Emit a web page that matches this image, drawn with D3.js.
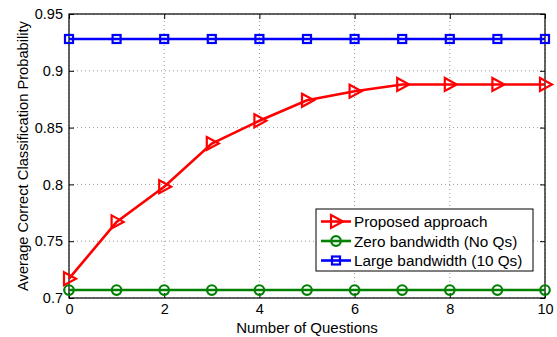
<!DOCTYPE html>
<html>
<head>
<meta charset="utf-8">
<script src="https://cdn.jsdelivr.net/npm/d3@7"></script>
<style>
  body { margin: 0; background: #fff; }
  text { font-family: "Liberation Sans", Arial, sans-serif; }
</style>
</head>
<body>
<svg id="chart" width="557" height="337"></svg>
<script>
// Data
const questions = [0, 1, 2, 3, 4, 5, 6, 7, 8, 9, 10];
const proposed = [0.717, 0.767, 0.798, 0.836, 0.856, 0.874, 0.882, 0.888, 0.888, 0.888, 0.888];
const zeroBandwidth = [0.707, 0.707, 0.707, 0.707, 0.707, 0.707, 0.707, 0.707, 0.707, 0.707, 0.707];
const largeBandwidth = [0.928, 0.928, 0.928, 0.928, 0.928, 0.928, 0.928, 0.928, 0.928, 0.928, 0.928];
const xTicks = [0, 2, 4, 6, 8, 10];
const yTicks = [0.7, 0.75, 0.8, 0.85, 0.9, 0.95];
const legendLabels = ["Proposed approach", "Zero bandwidth (No Qs)", "Large bandwidth (10 Qs)"];

const svg = d3.select("#chart");
const m = { left: 69, right: 12, top: 14, bottom: 39 };
const W = 557, H = 337;
const x = d3.scaleLinear().domain([0, 10]).range([m.left, W - m.right]);
const y = d3.scaleLinear().domain([0.7, 0.95]).range([H - m.bottom, m.top]);
const x0 = x.range()[0], x1 = x.range()[1], y0 = y.range()[0], y1 = y.range()[1];

// Dotted grid
const grid = svg.append("g");
xTicks.forEach(t => {
  grid.append("line").attr("x1", x(t)).attr("x2", x(t)).attr("y1", y0).attr("y2", y1)
    .attr("stroke", "#999").attr("stroke-width", 1).attr("stroke-dasharray", "1,3");
});
yTicks.forEach(t => {
  grid.append("line").attr("x1", x0).attr("x2", x1).attr("y1", y(t)).attr("y2", y(t))
    .attr("stroke", "#999").attr("stroke-width", 1).attr("stroke-dasharray", "1,3");
});

// Axes with inward ticks on all four sides
const fmtY = d => String(d);
const styleAxis = g => {
  g.select(".domain").remove();
  g.selectAll("line").attr("stroke", "#000");
  g.selectAll("text").attr("font-size", 14.5).attr("fill", "#000");
};
svg.append("g").attr("transform", `translate(0,${y0})`)
  .call(d3.axisBottom(x).tickValues(xTicks).tickSize(-5).tickPadding(6).tickFormat(d3.format("d")))
  .call(styleAxis);
svg.append("g").attr("transform", `translate(0,${y1})`)
  .call(d3.axisTop(x).tickValues(xTicks).tickSize(-5).tickFormat(""))
  .call(styleAxis);
svg.append("g").attr("transform", `translate(${x0},0)`)
  .call(d3.axisLeft(y).tickValues(yTicks).tickSize(-5).tickPadding(6).tickFormat(fmtY))
  .call(styleAxis);
svg.append("g").attr("transform", `translate(${x1},0)`)
  .call(d3.axisRight(y).tickValues(yTicks).tickSize(-5).tickFormat(""))
  .call(styleAxis);

// Frame
svg.append("rect").attr("x", x0).attr("y", y1).attr("width", x1 - x0).attr("height", y0 - y1)
  .attr("fill", "none").attr("stroke", "#000").attr("stroke-width", 1.2);

// Series
const series = [
  { values: zeroBandwidth, color: "#008000", marker: "circle" },
  { values: largeBandwidth, color: "#0000ff", marker: "square" },
  { values: proposed, color: "#ff0000", marker: "triangle" }
];
const line = d3.line().x((d, i) => x(questions[i])).y(d => y(d));

function drawMarker(g, type, cx, cy, color) {
  if (type === "circle") {
    g.append("circle").attr("cx", cx).attr("cy", cy).attr("r", 4.8)
      .attr("fill", "none").attr("stroke", color).attr("stroke-width", 2.2);
  } else if (type === "square") {
    g.append("rect").attr("x", cx - 4).attr("y", cy - 4).attr("width", 8).attr("height", 8)
      .attr("fill", "none").attr("stroke", color).attr("stroke-width", 2.2);
  } else {
    g.append("path").attr("d", `M${cx - 5},${cy - 6.5}L${cx + 7},${cy}L${cx - 5},${cy + 6.5}Z`)
      .attr("fill", "none").attr("stroke", color).attr("stroke-width", 2.2);
  }
}

series.forEach(s => {
  const g = svg.append("g");
  g.append("path").datum(s.values).attr("d", line)
    .attr("fill", "none").attr("stroke", s.color).attr("stroke-width", 2.6);
  s.values.forEach((v, i) => drawMarker(g, s.marker, x(questions[i]), y(v), s.color));
});

// Axis labels
svg.append("text").attr("x", (x0 + x1) / 2).attr("y", 333).attr("text-anchor", "middle")
  .attr("font-size", 15).text("Number of Questions");
svg.append("text").attr("transform", `translate(28,${(y0 + y1) / 2}) rotate(-90)`)
  .attr("text-anchor", "middle").attr("font-size", 14.7).text("Average Correct Classification Probability");

// Legend
const leg = svg.append("g");
const lx = 316, ly = 209, lw = 217, lh = 62;
leg.append("rect").attr("x", lx).attr("y", ly).attr("width", lw).attr("height", lh)
  .attr("fill", "#fff").attr("stroke", "#000").attr("stroke-width", 1);
const legOrder = [series[2], series[0], series[1]];
legOrder.forEach((s, i) => {
  const cy = ly + 12.5 + i * 19.5;
  leg.append("line").attr("x1", lx + 5).attr("x2", lx + 35).attr("y1", cy).attr("y2", cy)
    .attr("stroke", s.color).attr("stroke-width", 2.6);
  drawMarker(leg, s.marker, lx + 20, cy, s.color);
  leg.append("text").attr("x", lx + 38).attr("y", cy + 5.5).attr("font-size", 15.3)
    .text(legendLabels[i]);
});
</script>
</body>
</html>
